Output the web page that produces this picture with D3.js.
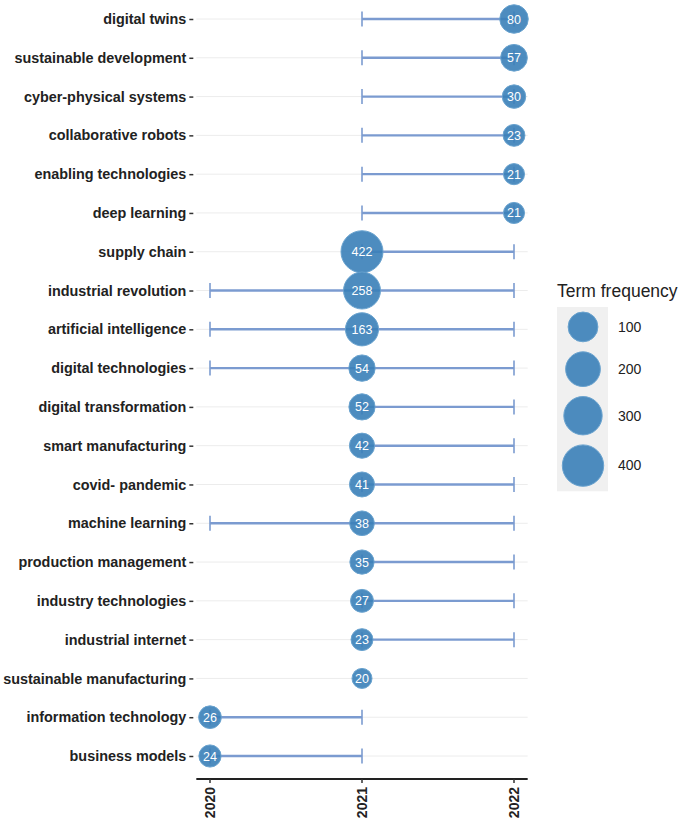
<!DOCTYPE html>
<html>
<head>
<meta charset="utf-8">
<script src="https://cdn.jsdelivr.net/npm/d3@7"></script>
<style>
  html, body { margin: 0; padding: 0; background: #ffffff; }
  svg { display: block; font-family: "Liberation Sans", Arial, sans-serif; }
</style>
</head>
<body>
<svg id="chart" width="685" height="823"></svg>
<script>
// ---- data ----
const terms = [
  "digital twins", "sustainable development", "cyber-physical systems",
  "collaborative robots", "enabling technologies", "deep learning",
  "supply chain", "industrial revolution", "artificial intelligence",
  "digital technologies", "digital transformation", "smart manufacturing",
  "covid- pandemic", "machine learning", "production management",
  "industry technologies", "industrial internet", "sustainable manufacturing",
  "information technology", "business models"
];
const yearQ1 = [2021, 2021, 2021, 2021, 2021, 2021, 2021, 2020, 2020, 2020,
                2021, 2021, 2021, 2020, 2021, 2021, 2021, 2021, 2020, 2020];
const yearMedian = [2022, 2022, 2022, 2022, 2022, 2022, 2021, 2021, 2021, 2021,
                    2021, 2021, 2021, 2021, 2021, 2021, 2021, 2021, 2020, 2020];
const yearQ3 = [2022, 2022, 2022, 2022, 2022, 2022, 2022, 2022, 2022, 2022,
                2022, 2022, 2022, 2022, 2022, 2022, 2022, 2021, 2021, 2021];
const freq = [80, 57, 30, 23, 21, 21, 422, 258, 163, 54,
              52, 42, 41, 38, 35, 27, 23, 20, 26, 24];
const xTicks = [2020, 2021, 2022];
const legendValues = [100, 200, 300, 400];
const legendTitle = "Term frequency";

const rows = terms.map((t, i) => ({
  term: t, q1: yearQ1[i], med: yearMedian[i], q3: yearQ3[i], f: freq[i]
}));

// ---- layout ----
const svg = d3.select("#chart");
const x = d3.scaleLinear().domain([2020, 2022]).range([210, 514]);
const xLo = 2020 - 0.09, xHi = 2022 + 0.09;
const y = d3.scalePoint().domain(terms).range([19, 756]);
const fMin = d3.min(freq), fMax = d3.max(freq);
const rScale = d3.scaleSqrt().domain([0, fMax - fMin]).range([10, 21]);
const r = v => rScale(Math.max(0, v - fMin));

const bubbleFill = "#3a80b8";
const bubbleStroke = "#6aa3cf";
const lineColor = "#7b9bd0";

// grid lines
svg.append("g").selectAll("line").data(terms).join("line")
  .attr("x1", x(xLo)).attr("x2", x(xHi))
  .attr("y1", d => y(d)).attr("y2", d => y(d))
  .attr("stroke", "#ececec").attr("stroke-width", 1);

// y axis (no domain line)
const yAxis = svg.append("g").attr("transform", `translate(${x(xLo)},0)`)
  .call(d3.axisLeft(y).tickSize(4).tickPadding(4));
yAxis.select(".domain").remove();
yAxis.selectAll(".tick line").attr("stroke", "#333").attr("stroke-width", 1.5)
  .attr("x1", -3).attr("x2", -7);
yAxis.selectAll(".tick text")
  .attr("x", -10)
  .attr("fill", "#222").attr("font-size", 14.4).attr("font-weight", "bold")
  .attr("font-family", "Liberation Sans, Arial, sans-serif");

// x axis
const xAxisG = svg.append("g").attr("transform", "translate(0,779)");
xAxisG.append("line")
  .attr("x1", x(xLo)).attr("x2", x(xHi)).attr("y1", 0).attr("y2", 0)
  .attr("stroke", "#222").attr("stroke-width", 2);
const xt = xAxisG.selectAll("g.xt").data(xTicks).join("g")
  .attr("class", "xt").attr("transform", d => `translate(${x(d)},0)`);
xt.append("line").attr("y1", 0).attr("y2", 4).attr("stroke", "#333").attr("stroke-width", 1.5);
xt.append("text")
  .attr("transform", "translate(0,8) rotate(-90)")
  .attr("text-anchor", "end").attr("dy", "0.35em")
  .attr("fill", "#222").attr("font-size", 14).attr("font-weight", "bold")
  .text(d => d);

// range lines with caps
const seg = svg.append("g").selectAll("g").data(rows.filter(d => d.q1 !== d.q3)).join("g");
seg.append("line")
  .attr("x1", d => x(d.q1)).attr("x2", d => x(d.q3))
  .attr("y1", d => y(d.term)).attr("y2", d => y(d.term))
  .attr("stroke", lineColor).attr("stroke-width", 2.4);
seg.append("line")
  .attr("x1", d => x(d.q1)).attr("x2", d => x(d.q1))
  .attr("y1", d => y(d.term) - 7.5).attr("y2", d => y(d.term) + 7.5)
  .attr("stroke", lineColor).attr("stroke-width", 1.6);
seg.append("line")
  .attr("x1", d => x(d.q3)).attr("x2", d => x(d.q3))
  .attr("y1", d => y(d.term) - 7.5).attr("y2", d => y(d.term) + 7.5)
  .attr("stroke", lineColor).attr("stroke-width", 1.6);

// bubbles
svg.append("g").selectAll("circle").data(rows).join("circle")
  .attr("cx", d => x(d.med)).attr("cy", d => y(d.term))
  .attr("r", d => r(d.f))
  .attr("fill", bubbleFill).attr("fill-opacity", 0.9)
  .attr("stroke", bubbleStroke).attr("stroke-width", 1);

// bubble labels
svg.append("g").selectAll("text").data(rows).join("text")
  .attr("x", d => x(d.med)).attr("y", d => y(d.term))
  .attr("dy", "0.36em").attr("text-anchor", "middle")
  .attr("fill", "#ffffff").attr("font-size", 12.5)
  .text(d => d.f);

// legend
const lg = svg.append("g");
lg.append("text").attr("x", 557).attr("y", 297)
  .attr("fill", "#222").attr("font-size", 17.5).text(legendTitle);
let yy = 307;
const keys = legendValues.map(v => {
  const h = 2 * r(v) + 10;
  const k = { v, cy: yy + h / 2, h };
  yy += h;
  return k;
});
lg.append("rect").attr("x", 557).attr("y", 307).attr("width", 51).attr("height", yy - 307)
  .attr("fill", "#f0f0f0");
lg.selectAll("circle").data(keys).join("circle")
  .attr("cx", 583).attr("cy", d => d.cy).attr("r", d => r(d.v))
  .attr("fill", bubbleFill).attr("fill-opacity", 0.9)
  .attr("stroke", bubbleStroke).attr("stroke-width", 1);
lg.selectAll("text.lv").data(keys).join("text").attr("class", "lv")
  .attr("x", 618).attr("y", d => d.cy).attr("dy", "0.35em")
  .attr("fill", "#222").attr("font-size", 14).text(d => d.v);
</script>
</body>
</html>
